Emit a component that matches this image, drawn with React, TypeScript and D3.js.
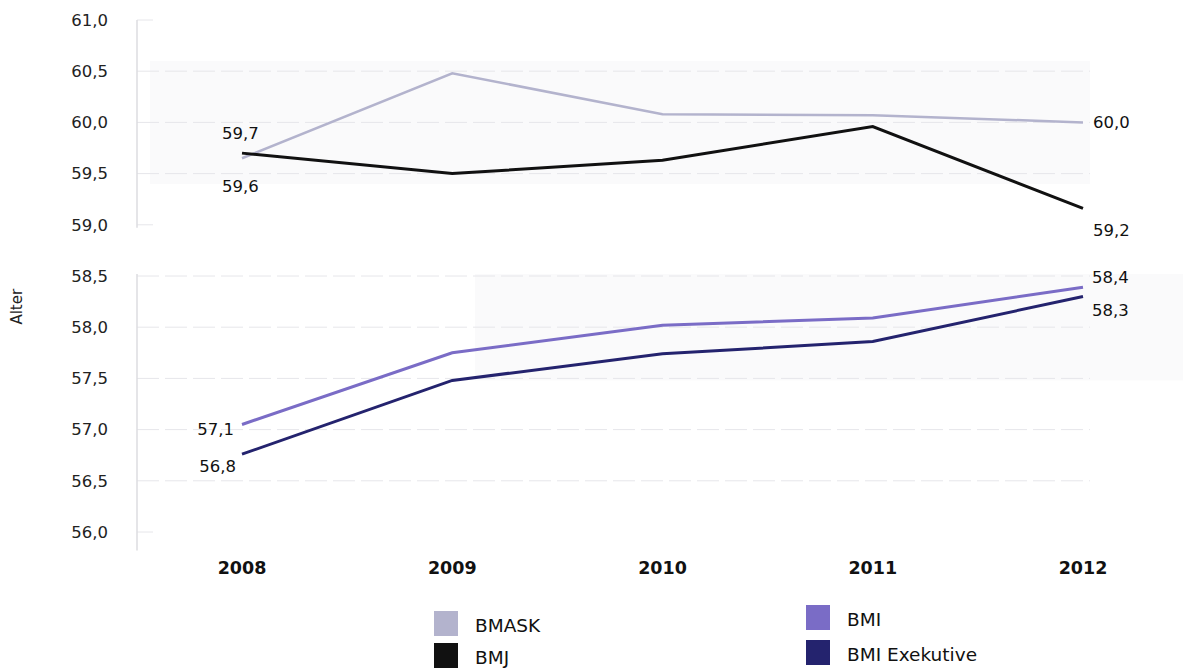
import React from "react";
import * as d3 from "d3";

const years = ["2008", "2009", "2010", "2011", "2012"];
const bmask = [59.65, 60.48, 60.08, 60.07, 60.0];
const bmj = [59.7, 59.5, 59.63, 59.96, 59.16];
const bmi = [57.05, 57.75, 58.02, 58.09, 58.39];
const bmiExe = [56.76, 57.48, 57.74, 57.86, 58.3];
const yTicks = [61.0, 60.5, 60.0, 59.5, 59.0, 58.5, 58.0, 57.5, 57.0, 56.5, 56.0];
const legendItems = ["BMASK", "BMJ", "BMI", "BMI Exekutive"];
const startLabels = ["59,6", "59,7", "57,1", "56,8"];
const endLabels = ["60,0", "59,2", "58,4", "58,3"];

const W = 1183;
const H = 669;
const FONT = "'DejaVu Sans', sans-serif";
const colors = ["#b3b3cd", "#111111", "#7a6cc6", "#24236e"];

export default function App() {
  const x = d3.scalePoint<string>().domain(years).range([242, 1083]);
  const y = d3.scaleLinear().domain([56, 61]).range([532, 20]);
  const line = d3
    .line<number>()
    .x((_, i) => x(years[i]) as number)
    .y((d) => y(d));
  const series = [bmask, bmj, bmi, bmiExe];
  const fmt = (v: number) => v.toFixed(1).replace(".", ",");
  const axisX = 137;
  const x0 = x("2008") as number;
  const x4 = x("2012") as number;

  return (
    <svg width={W} height={H} style={{ position: "absolute", left: 0, top: 0, background: "#fff" }}>
      <rect x={150} y={y(60.6)} width={940} height={y(59.4) - y(60.6)} fill="#fafafb" />
      <rect x={475} y={y(58.52)} width={708} height={y(57.48) - y(58.52)} fill="#fafafb" />
      {yTicks.map((t) => {
        const short = t === 61 || t === 59 || t === 56;
        return (
          <line
            key={"g" + t}
            x1={axisX}
            x2={short ? axisX + 16 : 1090}
            y1={y(t)}
            y2={y(t)}
            stroke="#e6e6ea"
            strokeWidth={1}
            strokeDasharray={short ? undefined : "22 6"}
          />
        );
      })}
      <line x1={axisX} x2={axisX} y1={y(61)} y2={y(58.97)} stroke="#dcdce0" strokeWidth={1.5} />
      <line x1={axisX} x2={axisX} y1={y(58.52)} y2={y(55.82)} stroke="#dcdce0" strokeWidth={1.5} />
      {yTicks.map((t) => (
        <text
          key={"t" + t}
          x={108}
          y={y(t)}
          dy="0.35em"
          textAnchor="end"
          fontFamily={FONT}
          fontSize={16.5}
          fill="#222"
        >
          {fmt(t)}
        </text>
      ))}
      <text
        transform={`translate(22,${y(58.2)}) rotate(-90)`}
        textAnchor="middle"
        fontFamily={FONT}
        fontSize={15}
        fill="#222"
      >
        Alter
      </text>
      {years.map((yr) => (
        <text
          key={yr}
          x={x(yr)}
          y={574}
          textAnchor="middle"
          fontFamily={FONT}
          fontSize={17.5}
          fontWeight="bold"
          fill="#111"
        >
          {yr}
        </text>
      ))}
      {series.map((s, i) => (
        <path
          key={"l" + i}
          d={line(s) || ""}
          fill="none"
          stroke={colors[i]}
          strokeWidth={i === 0 ? 2.5 : 3}
        />
      ))}
      <text x={x0 - 20} y={y(bmj[0]) - 14} fontFamily={FONT} fontSize={16.5} fill="#111">{startLabels[1]}</text>
      <text x={x0 - 20} y={y(bmask[0]) + 34} fontFamily={FONT} fontSize={16.5} fill="#111">{startLabels[0]}</text>
      <text x={x0 - 8} y={y(bmi[0]) + 11} textAnchor="end" fontFamily={FONT} fontSize={16.5} fill="#111">{startLabels[2]}</text>
      <text x={x0 - 6} y={y(bmiExe[0]) + 18} textAnchor="end" fontFamily={FONT} fontSize={16.5} fill="#111">{startLabels[3]}</text>
      <text x={x4 + 10} y={y(bmask[4]) + 6} fontFamily={FONT} fontSize={16.5} fill="#111">{endLabels[0]}</text>
      <text x={x4 + 10} y={y(bmj[4]) + 28} fontFamily={FONT} fontSize={16.5} fill="#111">{endLabels[1]}</text>
      <text x={x4 + 9} y={y(bmi[4]) - 4} fontFamily={FONT} fontSize={16.5} fill="#111">{endLabels[2]}</text>
      <text x={x4 + 9} y={y(bmiExe[4]) + 20} fontFamily={FONT} fontSize={16.5} fill="#111">{endLabels[3]}</text>
      {legendItems.map((name, i) => {
        const lx = i < 2 ? 434 : 806;
        const ly = i < 2 ? (i === 0 ? 611 : 643) : i === 2 ? 605 : 640;
        return (
          <g key={name}>
            <rect x={lx} y={ly} width={24} height={25} fill={colors[i]} />
            <text x={lx + 41} y={ly + 21} fontFamily={FONT} fontSize={18.5} fill="#111">
              {name}
            </text>
          </g>
        );
      })}
    </svg>
  );
}
